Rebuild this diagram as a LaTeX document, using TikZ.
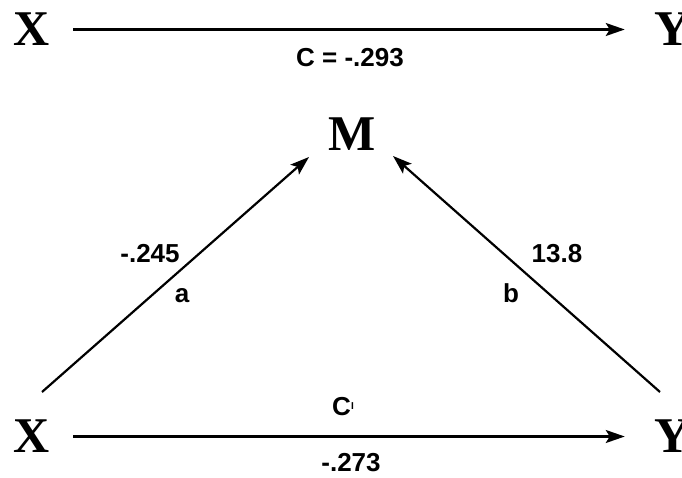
\documentclass[tikz,border=0pt]{standalone}
\usepackage{fontspec}
\setmainfont{Liberation Serif}
\newfontfamily\lsans{Liberation Sans}
\usetikzlibrary{arrows.meta}
\begin{document}
\begin{tikzpicture}[x=1pt,y=-1pt,
  var/.style={inner sep=0pt,font=\fontsize{50}{50}\selectfont\bfseries},
  lbl/.style={inner sep=0pt,anchor=base,font=\lsans\fontsize{26}{26}\selectfont\bfseries},
  arr/.style={line width=2.2pt,-{Stealth[length=19pt,width=13pt,inset=4pt]}}]
\useasboundingbox (0,0) rectangle (682,477);
% top row
\node[var] (X1) at (32,29.5) {X};
\node[var] (Y1) at (673,29.5) {Y};
\draw[arr,shorten <=23pt,shorten >=30pt] (X1.east) -- (Y1.west);
\node[lbl] (c) at (350,66) {C = -.293};
% mediator
\node[var] (M) at (352,134.5) {M};
\node[var] (X2) at (32,436.5) {X};
\node[var] (Y2) at (673,436.5) {Y};
\coordinate (aS) at (42,392);
\coordinate (aE) at (309,157);
\coordinate (bS) at (660,392);
\coordinate (bE) at (393,156);
\draw[arr] (aS) -- (aE);
\draw[arr] (bS) -- (bE);
\draw[arr,shorten <=23pt,shorten >=30pt] (X2.east) -- (Y2.west);
\node[lbl] (av) at (150,262) {-.245};
\node[lbl] (a) at (182,302) {a};
\node[lbl] (bv) at (557,262) {13.8};
\node[lbl] (b) at (511,302) {b};
\node[lbl] (cp) at (343,415.5) {C\raisebox{6pt}{\fontsize{10}{10}\selectfont I}};
\node[lbl] (cpv) at (351,471) {-.273};
\end{tikzpicture}
\end{document}
